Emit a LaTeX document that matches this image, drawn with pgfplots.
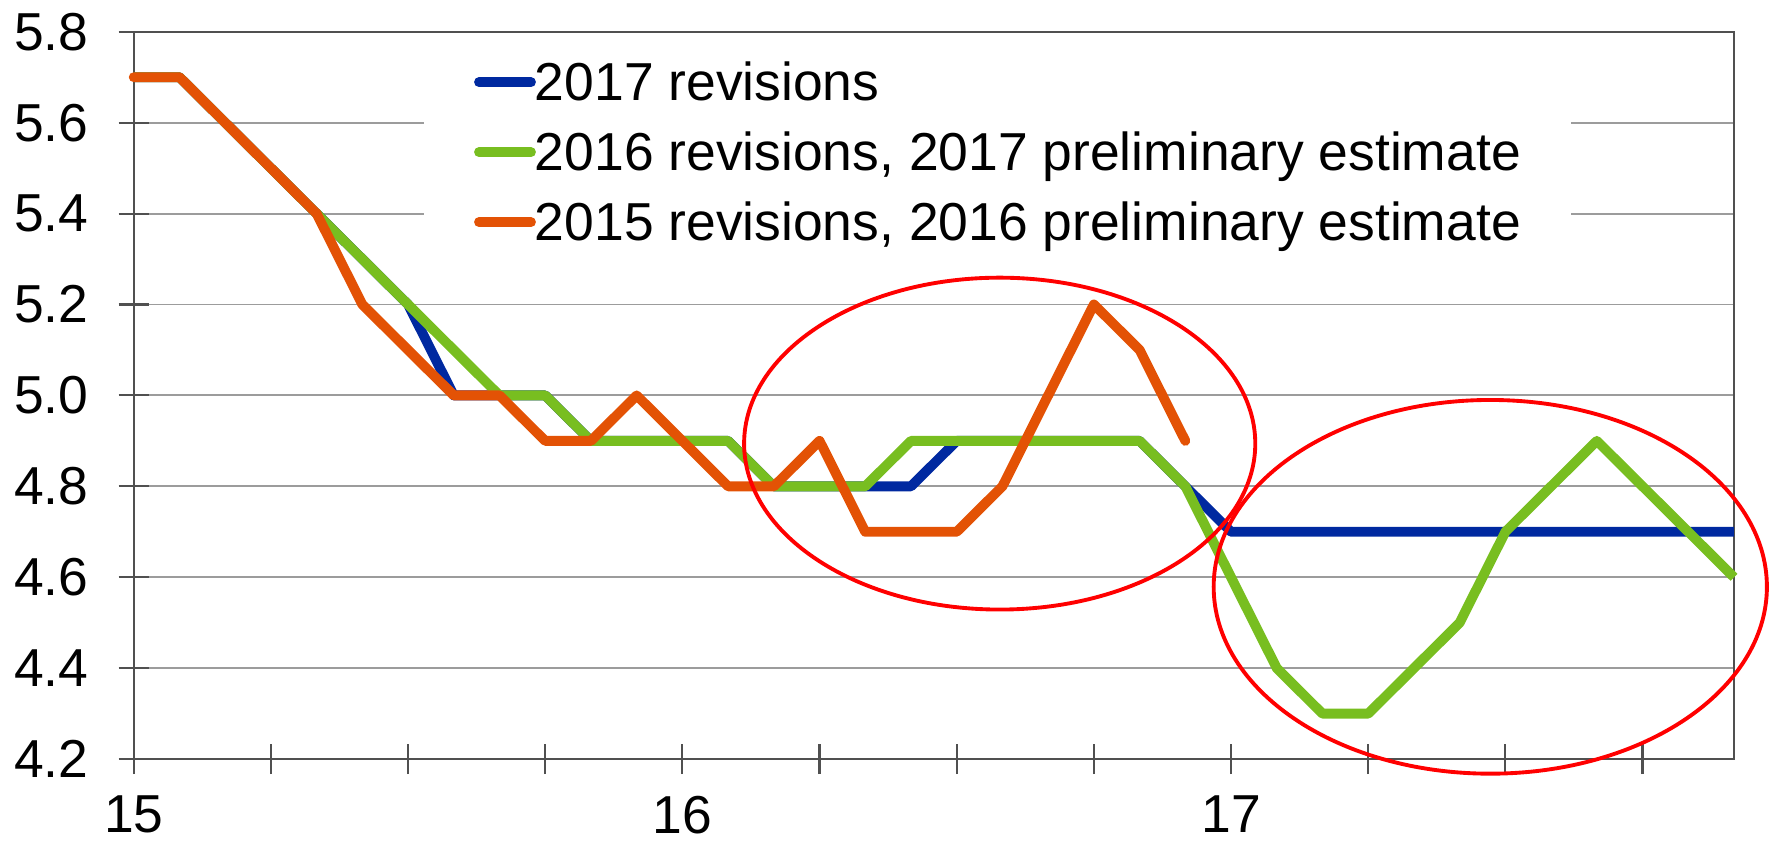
\documentclass[border=0pt]{standalone}
\usepackage{fontspec}
\setmainfont{Liberation Sans}
\usepackage{pgfplots}
\pgfplotsset{compat=1.18}

\definecolor{revblue}{HTML}{0029A0}
\definecolor{revgreen}{HTML}{78BE20}
\definecolor{revorange}{HTML}{E35205}
\definecolor{gridgray}{HTML}{9C9C9C}
\definecolor{axisgray}{HTML}{505050}

% months since Jan 2015
\pgfplotstableread{
m v
0 5.7
1 5.7
2 5.6
3 5.5
4 5.4
5 5.3
6 5.2
7 5.0
8 5.0
9 5.0
10 4.9
11 4.9
12 4.9
13 4.9
14 4.8
15 4.8
16 4.8
17 4.8
18 4.9
19 4.9
20 4.9
21 4.9
22 4.9
23 4.8
24 4.7
25 4.7
26 4.7
27 4.7
28 4.7
29 4.7
30 4.7
31 4.7
32 4.7
33 4.7
34 4.7
35 4.7
}\revseventeen

\pgfplotstableread{
m v
0 5.7
1 5.7
2 5.6
3 5.5
4 5.4
5 5.3
6 5.2
7 5.1
8 5.0
9 5.0
10 4.9
11 4.9
12 4.9
13 4.9
14 4.8
15 4.8
16 4.8
17 4.9
18 4.9
19 4.9
20 4.9
21 4.9
22 4.9
23 4.8
24 4.6
25 4.4
26 4.3
27 4.3
28 4.4
29 4.5
30 4.7
31 4.8
32 4.9
33 4.8
34 4.7
35 4.6
}\revsixteen

\pgfplotstableread{
m v
0 5.7
1 5.7
2 5.6
3 5.5
4 5.4
5 5.2
6 5.1
7 5.0
8 5.0
9 4.9
10 4.9
11 5.0
12 4.9
13 4.8
14 4.8
15 4.9
16 4.7
17 4.7
18 4.7
19 4.8
20 5.0
21 5.2
22 5.1
23 4.9
}\revfifteen

\begin{document}
\begin{tikzpicture}
\begin{axis}[
    scale only axis,
    width=160mm, height=72.73mm,
    xmin=0, xmax=35, ymin=4.2, ymax=5.8,
    xtick={0,3,...,33},
    xticklabels={15,,,,16,,,,17,,,},
    ytick={4.2,4.4,4.6,4.8,5.0,5.2,5.4,5.6,5.8},
    /pgf/number format/assume math mode=true,
    tick label style={font=\fontsize{15.2}{18}\selectfont},
    yticklabel style={xshift=-1.8mm, /pgf/number format/.cd, fixed, fixed zerofill, precision=1},
    xticklabel style={inner ysep=0pt, yshift=-2.1mm},
    tick pos=left,
    ymajorgrids,
    major grid style={color=gridgray, line width=0.55pt},
    axis line style={color=axisgray, line width=0.6pt},
    tick style={color=axisgray, line width=0.6pt},
    tick align=center,
    major tick length=3mm,
    clip=false,
    legend cell align=left,
    legend image code/.code={\draw[line width=2.8pt, line cap=round] (0mm,0mm) -- (5.2mm,0mm);},
    legend style={
      at={(rel axis cs:0.181,0.994)}, anchor=north west,
      draw=none, fill=white,
      inner xsep=5.0mm, inner ysep=2mm,
      font=\fontsize{15.2}{18}\selectfont,
      row sep=5.4pt, column sep=-0.1mm,
      nodes={inner sep=0pt, text height=12.5pt, text depth=2pt},
    },
  ]
  \coordinate (sw) at (rel axis cs:0,0);
  \coordinate (ne) at (rel axis cs:1,1);

  \addplot[revblue, line width=2.8pt, line join=round] table[x=m, y=v] {\revseventeen};
  \addlegendentry{2017 revisions}
  \addplot[revgreen, line width=2.8pt, line join=round] table[x=m, y=v] {\revsixteen};
  \addlegendentry{2016 revisions, 2017 preliminary estimate}
  \addplot[revorange, line width=2.8pt, line join=round, line cap=round] table[x=m, y=v] {\revfifteen};
  \addlegendentry{2015 revisions, 2016 preliminary estimate}

  \draw[red, line width=1.1pt] (axis cs:18.94,4.894) ellipse [x radius=5.59, y radius=0.365];
  \draw[red, line width=1.1pt] (axis cs:29.67,4.579) ellipse [x radius=6.05, y radius=0.411];
\end{axis}
\pgfresetboundingbox
\path[use as bounding box] ([shift={(-13.37mm,-8.6mm)}]sw) rectangle ([shift={(4.2mm,3.17mm)}]ne);
\end{tikzpicture}
\end{document}
